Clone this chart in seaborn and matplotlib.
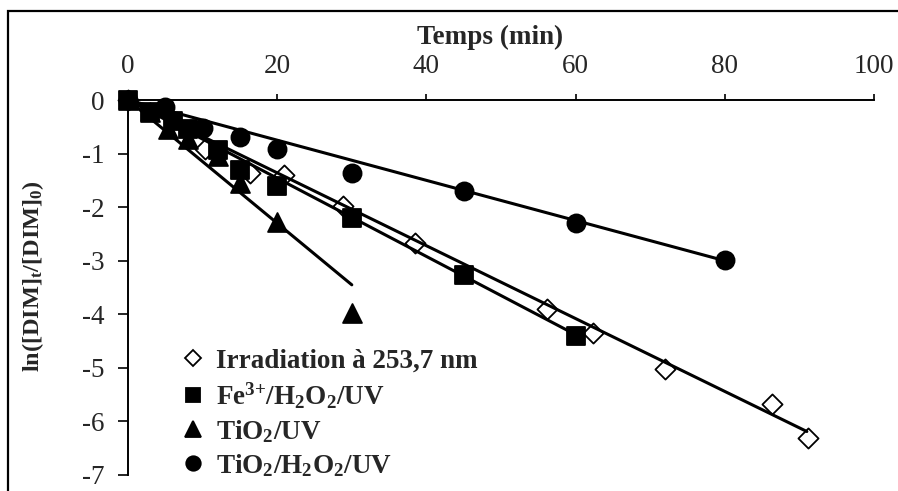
import numpy as np
import pandas as pd
import matplotlib
matplotlib.use("Agg")
import matplotlib.pyplot as plt
import seaborn as sns
from matplotlib.patches import Rectangle

sns.set_theme(style="white")
plt.rcParams["font.family"] = ["Liberation Serif", "DejaVu Serif"]
plt.rcParams["mathtext.default"] = "regular"
plt.rcParams["axes.unicode_minus"] = False

# Kinetics of DIM degradation: ln([DIM]t/[DIM]0) versus time (min)
t_uv = [0, 10.3, 16.4, 20.9, 28.8, 38.5, 56.2, 62.3, 72.0, 86.3, 91.2]
y_uv = [0, -0.91, -1.36, -1.40, -1.98, -2.67, -3.90, -4.35, -5.02, -5.67, -6.31]

t_fe = [0, 3, 6, 8, 12, 15, 20, 30, 45, 60]
y_fe = [0, -0.22, -0.40, -0.55, -0.93, -1.30, -1.60, -2.20, -3.27, -4.40]

t_ti = [0, 3, 5.3, 8, 12, 15, 20, 30]
y_ti = [0, -0.22, -0.55, -0.72, -1.05, -1.55, -2.27, -3.97]

t_tih = [0, 5, 10, 15, 20, 30, 45, 60, 80]
y_tih = [0, -0.13, -0.52, -0.69, -0.91, -1.36, -1.70, -2.29, -2.99]

labels = [
    "Irradiation à 253,7 nm",
    r"Fe$^{3{+}}$/H$_2$O$_2$/UV",
    r"TiO$_2$/UV",
    r"TiO$_2$/H$_2$O$_2$/UV",
]

# pseudo-first-order rate constants (min^-1) and extent of each fitted line
k_app = [0.068, 0.073, 0.115, 0.0375]
t_fit_end = [91, 60, 30, 80]

x_ticks = [0, 20, 40, 60, 80, 100]
y_ticks = [0, -1, -2, -3, -4, -5, -6, -7]

series_t = [t_uv, t_fe, t_ti, t_tih]
series_y = [y_uv, y_fe, y_ti, y_tih]
markers = ["D", "s", "^", "o"]
faces = ["white", "black", "black", "black"]
sizes = [105, 150, 185, 170]

fig = plt.figure(figsize=(8.98, 4.91), dpi=100)
ax = fig.add_axes([128 / 898, 16 / 491, 746 / 898, 375 / 491])

handles = []
for t, y, m, fc, s, lab in zip(series_t, series_y, markers, faces, sizes, labels):
    df = pd.DataFrame({"t": t, "y": y})
    sns.scatterplot(data=df, x="t", y="y", marker=m, s=s, color=fc,
                    edgecolor="black", linewidth=1.3, ax=ax, zorder=2,
                    clip_on=False, legend=False)
    handles.append(plt.Line2D([], [], ls="none", marker=m, markersize=np.sqrt(s) * 0.8,
                              markerfacecolor=fc, markeredgecolor="black",
                              markeredgewidth=1.3))

for k, te in zip(k_app, t_fit_end):
    fit = pd.DataFrame({"t": [0, te], "y": [0, -k * te]})
    sns.lineplot(data=fit, x="t", y="y", color="black", linewidth=2.2, ax=ax,
                 zorder=3, clip_on=False)

ax.set_xlim(0, 100)
ax.set_ylim(-7, 0)
ax.set_xticks(x_ticks)
ax.set_yticks(y_ticks)
ax.xaxis.tick_top()
ax.xaxis.set_label_position("top")
ax.tick_params(axis="x", direction="out", length=4, width=1.2, pad=11,
               labelsize=19.5, top=True, bottom=False, color="black")
ax.tick_params(axis="y", direction="out", length=7, width=1.2, pad=10,
               labelsize=19.5, left=True, color="black")

for side in ["bottom", "right"]:
    ax.spines[side].set_visible(False)
for side in ["top", "left"]:
    ax.spines[side].set_color("black")
    ax.spines[side].set_linewidth(1.4)

ax.set_xlabel("Temps (min)", fontweight="bold", fontsize=19.5)
ax.xaxis.set_label_coords(0.485, 1.15)
ax.set_ylabel(r"ln([DIM]$_t$/[DIM]$_0$)", fontweight="bold", fontsize=17.5)
ax.yaxis.set_label_coords(-0.11, 0.53)

ax.legend(handles, labels, loc="upper left",
          bbox_to_anchor=(166 / 898, 1 - 335 / 491), bbox_transform=fig.transFigure,
          frameon=False, prop=dict(family="Liberation Serif", weight="bold", size=19.5),
          handletextpad=0.35, labelspacing=0.26, borderpad=0, handlelength=1.0)

# chart-area border
fig.add_artist(Rectangle((8 / 898, -0.2), 2, 0.2 + (491 - 11) / 491,
                         transform=fig.transFigure, fill=False, lw=1.6,
                         ec="black"))

fig.savefig("out.png", dpi=100)
